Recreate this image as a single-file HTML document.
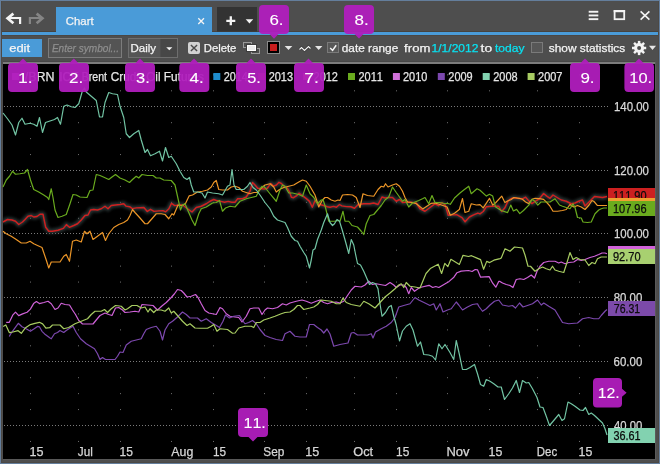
<!DOCTYPE html><html><head><meta charset="utf-8"><style>html,body{margin:0;padding:0;background:#4e4e4e;overflow:hidden}svg{display:block;will-change:transform}text{font-family:"Liberation Sans",sans-serif;font-kerning:none}</style></head><body>
<svg width="660" height="464" viewBox="0 0 660 464">
<defs><filter id="glow" x="-5%" y="-50%" width="110%" height="200%"><feGaussianBlur stdDeviation="1.4"/></filter></defs>
<rect x="0" y="0" width="660" height="464" fill="#647e9c"/>
<rect x="1" y="1" width="658" height="462" fill="#4e4e4e"/>
<rect x="1" y="1" width="1" height="462" fill="#4c4945"/>
<rect x="658" y="1" width="1" height="462" fill="#4c4945"/>
<rect x="1" y="462" width="658" height="1" fill="#4c4945"/>
<rect x="2" y="31" width="656" height="1" fill="#46433f"/>
<rect x="2" y="32" width="656" height="3" fill="#4a9bd8"/>
<rect x="2" y="35" width="656" height="1" fill="#4a4744"/>
<rect x="56" y="7" width="156" height="28" fill="#4a9bd8"/>
<g fill="none" stroke-linecap="butt" stroke-linejoin="miter">
<path d="M13.4,13.6 L7.6,18.3 L13.4,23.2" stroke="#f4f4f4" stroke-width="2.7"/><path d="M8,18 H20.1 V24" stroke="#f4f4f4" stroke-width="2.2"/>
<path d="M36.6,13.6 L42.4,18.3 L36.6,23.2" stroke="#858585" stroke-width="2.7"/><path d="M42,18 H29.9 V24" stroke="#858585" stroke-width="2.2"/>
</g>
<text x="65.82" y="25.2" font-size="11.5" fill="#f4f4f4" stroke="#f4f4f4" stroke-width="0.25" textLength="27.86" lengthAdjust="spacingAndGlyphs">Chart</text>
<path d="M198.3,18.3 L204,24 M204,18.3 L198.3,24" stroke="#f4f4f4" stroke-width="1.3"/>
<rect x="217" y="7" width="40" height="24.5" fill="#333333"/>
<path d="M226.3,20.8 H235.3 M230.8,16.3 V25.3" stroke="#f4f4f4" stroke-width="2.3"/>
<path d="M245.7,19.2 H253.2 L249.45,23.4 Z" fill="#f4f4f4"/>
<g fill="#f4f4f4"><rect x="588.7" y="10.8" width="9.6" height="1.9"/><rect x="588.7" y="14.5" width="9.6" height="1.9"/><rect x="588.7" y="18.2" width="9.6" height="1.9"/></g>
<rect x="614.6" y="11" width="9.6" height="8.2" fill="none" stroke="#f4f4f4" stroke-width="1.8"/><rect x="613.7" y="10" width="11.4" height="2.2" fill="#f4f4f4"/>
<path d="M640.6,11.3 L649.4,19.7 M649.4,11.3 L640.6,19.7" stroke="#f4f4f4" stroke-width="1.6"/>
<rect x="2" y="39" width="40" height="18" fill="#4a9bd8"/>
<text x="9.25" y="51.8" font-size="11.5" fill="#f4f4f4" stroke="#f4f4f4" stroke-width="0.25" textLength="20.84" lengthAdjust="spacingAndGlyphs">edit</text>
<rect x="48.5" y="38.5" width="73" height="19" fill="#545454" stroke="#7c7c7c" stroke-width="1"/>
<text x="51.89" y="51.8" font-size="11.5" fill="#8e8e8e" stroke="#8e8e8e" stroke-width="0.25" textLength="67.14" lengthAdjust="spacingAndGlyphs" font-style="italic">Enter symbol...</text>
<rect x="128.5" y="38.5" width="49" height="19" fill="#555555" stroke="#6e6e6e" stroke-width="1"/>
<rect x="160.5" y="39" width="16.5" height="18" fill="#474747"/>
<text x="130.46" y="51.8" font-size="11.5" fill="#f4f4f4" stroke="#f4f4f4" stroke-width="0.25" textLength="25.57" lengthAdjust="spacingAndGlyphs">Daily</text>
<path d="M166.2,47.3 H172.4 L169.3,50.2 Z" fill="#f4f4f4"/>
<rect x="188" y="42" width="12" height="12" rx="2" fill="#d2d2d2"/>
<path d="M190.9,44.9 L197.1,51.1 M197.1,44.9 L190.9,51.1" stroke="#4a4a4a" stroke-width="1.4"/>
<text x="203.77" y="51.8" font-size="11.5" fill="#f4f4f4" stroke="#f4f4f4" stroke-width="0.25" textLength="32.63" lengthAdjust="spacingAndGlyphs">Delete</text>
<rect x="243.5" y="42.5" width="8" height="5" fill="none" stroke="#9a9a9a" stroke-width="1"/>
<rect x="251.5" y="48.5" width="8" height="5" fill="none" stroke="#9a9a9a" stroke-width="1"/>
<rect x="246.5" y="44.5" width="10" height="7" fill="#ececec" stroke="#3c3c3c" stroke-width="1"/>
<rect x="247.5" y="45.5" width="8" height="5" fill="none" stroke="#ffffff" stroke-width="1"/>
<rect x="267.5" y="41.5" width="12" height="12" fill="#000" stroke="#8a8a8a" stroke-width="1"/>
<rect x="270" y="44" width="7" height="7" fill="#c81e1e"/>
<path d="M284.7,46 H292.3 L288.5,49.9 Z" fill="#e6e6e6"/>
<polyline points="299.5,49.5 301.5,47.5 304.5,50.5 308.5,46.5 310.5,48.5" fill="none" stroke="#111" stroke-width="2.6" opacity="0.35"/>
<polyline points="299.5,49.5 301.5,47.5 304.5,50.5 308.5,46.5 310.5,48.5" fill="none" stroke="#f4f4f4" stroke-width="1.1"/>
<path d="M315,46 H322.4 L318.7,50 Z" fill="#e6e6e6"/>
<rect x="327.5" y="42.5" width="11" height="10" fill="#575757" stroke="#7a7a7a" stroke-width="1"/>
<path d="M330.2,47.9 L332.6,50.4 L336.2,45.3" fill="none" stroke="#f4f4f4" stroke-width="1.5"/>
<text x="341.80" y="51.8" font-size="11.5" fill="#f4f4f4" stroke="#f4f4f4" stroke-width="0.25" textLength="56.42" lengthAdjust="spacingAndGlyphs">date range</text>
<text x="404.11" y="51.8" font-size="11.5" fill="#f4f4f4" stroke="#f4f4f4" stroke-width="0.25" textLength="26.25" lengthAdjust="spacingAndGlyphs">from</text>
<text x="431.58" y="51.8" font-size="11.5" fill="#08e2f2" stroke="#08e2f2" stroke-width="0.25" textLength="46.82" lengthAdjust="spacingAndGlyphs">1/1/2012</text>
<text x="480.59" y="51.8" font-size="11.5" fill="#f4f4f4" stroke="#f4f4f4" stroke-width="0.25" textLength="11.59" lengthAdjust="spacingAndGlyphs">to</text>
<text x="494.92" y="51.8" font-size="11.5" fill="#08e2f2" stroke="#08e2f2" stroke-width="0.25" textLength="29.61" lengthAdjust="spacingAndGlyphs">today</text>
<rect x="531.5" y="42.5" width="11" height="10" fill="#575757" stroke="#7a7a7a" stroke-width="1"/>
<text x="548.77" y="51.8" font-size="11.5" fill="#f4f4f4" stroke="#f4f4f4" stroke-width="0.25" textLength="76.46" lengthAdjust="spacingAndGlyphs">show statistics</text>
<g fill="#f4f4f4"><rect x="637.85" y="40.90" width="2.5" height="3" transform="rotate(0 639.1 48.0)"/><rect x="637.85" y="40.90" width="2.5" height="3" transform="rotate(45 639.1 48.0)"/><rect x="637.85" y="40.90" width="2.5" height="3" transform="rotate(90 639.1 48.0)"/><rect x="637.85" y="40.90" width="2.5" height="3" transform="rotate(135 639.1 48.0)"/><rect x="637.85" y="40.90" width="2.5" height="3" transform="rotate(180 639.1 48.0)"/><rect x="637.85" y="40.90" width="2.5" height="3" transform="rotate(225 639.1 48.0)"/><rect x="637.85" y="40.90" width="2.5" height="3" transform="rotate(270 639.1 48.0)"/><rect x="637.85" y="40.90" width="2.5" height="3" transform="rotate(315 639.1 48.0)"/><circle cx="639.1" cy="48.0" r="5.0"/></g><circle cx="639.1" cy="48.0" r="2.0" fill="#4e4e4e"/>
<path d="M649,45.8 H656 L652.5,49.9 Z" fill="#e6e6e6"/>
<rect x="3" y="62" width="652" height="2" fill="#7c7c7c"/>
<rect x="3" y="61" width="652" height="1" fill="#474747"/>
<rect x="3" y="64" width="652" height="395" fill="#000"/>
<rect x="655" y="62" width="1" height="398" fill="#5a5a5a"/>
<rect x="3" y="459" width="653" height="1" fill="#585858"/>
<line x1="4" y1="106.5" x2="608" y2="106.5" stroke="#7a7a7a" stroke-width="1" stroke-dasharray="1 2"/><line x1="4" y1="170.5" x2="608" y2="170.5" stroke="#7a7a7a" stroke-width="1" stroke-dasharray="1 2"/><line x1="4" y1="233.5" x2="608" y2="233.5" stroke="#7a7a7a" stroke-width="1" stroke-dasharray="1 2"/><line x1="4" y1="297.5" x2="608" y2="297.5" stroke="#7a7a7a" stroke-width="1" stroke-dasharray="1 2"/><line x1="4" y1="361.5" x2="608" y2="361.5" stroke="#7a7a7a" stroke-width="1" stroke-dasharray="1 2"/><line x1="4" y1="425.5" x2="608" y2="425.5" stroke="#7a7a7a" stroke-width="1" stroke-dasharray="1 2"/><rect x="30" y="74.375" width="1" height="1" fill="#707070"/><rect x="30" y="90.312" width="1" height="1" fill="#707070"/><rect x="30" y="122.188" width="1" height="1" fill="#707070"/><rect x="30" y="138.125" width="1" height="1" fill="#707070"/><rect x="30" y="154.062" width="1" height="1" fill="#707070"/><rect x="30" y="185.938" width="1" height="1" fill="#707070"/><rect x="30" y="201.875" width="1" height="1" fill="#707070"/><rect x="30" y="217.812" width="1" height="1" fill="#707070"/><rect x="30" y="249.688" width="1" height="1" fill="#707070"/><rect x="30" y="265.625" width="1" height="1" fill="#707070"/><rect x="30" y="281.562" width="1" height="1" fill="#707070"/><rect x="30" y="313.438" width="1" height="1" fill="#707070"/><rect x="30" y="329.375" width="1" height="1" fill="#707070"/><rect x="30" y="345.312" width="1" height="1" fill="#707070"/><rect x="30" y="377.188" width="1" height="1" fill="#707070"/><rect x="30" y="393.125" width="1" height="1" fill="#707070"/><rect x="30" y="409.062" width="1" height="1" fill="#707070"/><rect x="30" y="440.938" width="1" height="1" fill="#707070"/><rect x="78" y="74.375" width="1" height="1" fill="#707070"/><rect x="78" y="90.312" width="1" height="1" fill="#707070"/><rect x="78" y="122.188" width="1" height="1" fill="#707070"/><rect x="78" y="138.125" width="1" height="1" fill="#707070"/><rect x="78" y="154.062" width="1" height="1" fill="#707070"/><rect x="78" y="185.938" width="1" height="1" fill="#707070"/><rect x="78" y="201.875" width="1" height="1" fill="#707070"/><rect x="78" y="217.812" width="1" height="1" fill="#707070"/><rect x="78" y="249.688" width="1" height="1" fill="#707070"/><rect x="78" y="265.625" width="1" height="1" fill="#707070"/><rect x="78" y="281.562" width="1" height="1" fill="#707070"/><rect x="78" y="313.438" width="1" height="1" fill="#707070"/><rect x="78" y="329.375" width="1" height="1" fill="#707070"/><rect x="78" y="345.312" width="1" height="1" fill="#707070"/><rect x="78" y="377.188" width="1" height="1" fill="#707070"/><rect x="78" y="393.125" width="1" height="1" fill="#707070"/><rect x="78" y="409.062" width="1" height="1" fill="#707070"/><rect x="78" y="440.938" width="1" height="1" fill="#707070"/><rect x="120" y="74.375" width="1" height="1" fill="#707070"/><rect x="120" y="90.312" width="1" height="1" fill="#707070"/><rect x="120" y="122.188" width="1" height="1" fill="#707070"/><rect x="120" y="138.125" width="1" height="1" fill="#707070"/><rect x="120" y="154.062" width="1" height="1" fill="#707070"/><rect x="120" y="185.938" width="1" height="1" fill="#707070"/><rect x="120" y="201.875" width="1" height="1" fill="#707070"/><rect x="120" y="217.812" width="1" height="1" fill="#707070"/><rect x="120" y="249.688" width="1" height="1" fill="#707070"/><rect x="120" y="265.625" width="1" height="1" fill="#707070"/><rect x="120" y="281.562" width="1" height="1" fill="#707070"/><rect x="120" y="313.438" width="1" height="1" fill="#707070"/><rect x="120" y="329.375" width="1" height="1" fill="#707070"/><rect x="120" y="345.312" width="1" height="1" fill="#707070"/><rect x="120" y="377.188" width="1" height="1" fill="#707070"/><rect x="120" y="393.125" width="1" height="1" fill="#707070"/><rect x="120" y="409.062" width="1" height="1" fill="#707070"/><rect x="120" y="440.938" width="1" height="1" fill="#707070"/><rect x="171" y="74.375" width="1" height="1" fill="#707070"/><rect x="171" y="90.312" width="1" height="1" fill="#707070"/><rect x="171" y="122.188" width="1" height="1" fill="#707070"/><rect x="171" y="138.125" width="1" height="1" fill="#707070"/><rect x="171" y="154.062" width="1" height="1" fill="#707070"/><rect x="171" y="185.938" width="1" height="1" fill="#707070"/><rect x="171" y="201.875" width="1" height="1" fill="#707070"/><rect x="171" y="217.812" width="1" height="1" fill="#707070"/><rect x="171" y="249.688" width="1" height="1" fill="#707070"/><rect x="171" y="265.625" width="1" height="1" fill="#707070"/><rect x="171" y="281.562" width="1" height="1" fill="#707070"/><rect x="171" y="313.438" width="1" height="1" fill="#707070"/><rect x="171" y="329.375" width="1" height="1" fill="#707070"/><rect x="171" y="345.312" width="1" height="1" fill="#707070"/><rect x="171" y="377.188" width="1" height="1" fill="#707070"/><rect x="171" y="393.125" width="1" height="1" fill="#707070"/><rect x="171" y="409.062" width="1" height="1" fill="#707070"/><rect x="171" y="440.938" width="1" height="1" fill="#707070"/><rect x="213" y="74.375" width="1" height="1" fill="#707070"/><rect x="213" y="90.312" width="1" height="1" fill="#707070"/><rect x="213" y="122.188" width="1" height="1" fill="#707070"/><rect x="213" y="138.125" width="1" height="1" fill="#707070"/><rect x="213" y="154.062" width="1" height="1" fill="#707070"/><rect x="213" y="185.938" width="1" height="1" fill="#707070"/><rect x="213" y="201.875" width="1" height="1" fill="#707070"/><rect x="213" y="217.812" width="1" height="1" fill="#707070"/><rect x="213" y="249.688" width="1" height="1" fill="#707070"/><rect x="213" y="265.625" width="1" height="1" fill="#707070"/><rect x="213" y="281.562" width="1" height="1" fill="#707070"/><rect x="213" y="313.438" width="1" height="1" fill="#707070"/><rect x="213" y="329.375" width="1" height="1" fill="#707070"/><rect x="213" y="345.312" width="1" height="1" fill="#707070"/><rect x="213" y="377.188" width="1" height="1" fill="#707070"/><rect x="213" y="393.125" width="1" height="1" fill="#707070"/><rect x="213" y="409.062" width="1" height="1" fill="#707070"/><rect x="213" y="440.938" width="1" height="1" fill="#707070"/><rect x="264" y="74.375" width="1" height="1" fill="#707070"/><rect x="264" y="90.312" width="1" height="1" fill="#707070"/><rect x="264" y="122.188" width="1" height="1" fill="#707070"/><rect x="264" y="138.125" width="1" height="1" fill="#707070"/><rect x="264" y="154.062" width="1" height="1" fill="#707070"/><rect x="264" y="185.938" width="1" height="1" fill="#707070"/><rect x="264" y="201.875" width="1" height="1" fill="#707070"/><rect x="264" y="217.812" width="1" height="1" fill="#707070"/><rect x="264" y="249.688" width="1" height="1" fill="#707070"/><rect x="264" y="265.625" width="1" height="1" fill="#707070"/><rect x="264" y="281.562" width="1" height="1" fill="#707070"/><rect x="264" y="313.438" width="1" height="1" fill="#707070"/><rect x="264" y="329.375" width="1" height="1" fill="#707070"/><rect x="264" y="345.312" width="1" height="1" fill="#707070"/><rect x="264" y="377.188" width="1" height="1" fill="#707070"/><rect x="264" y="393.125" width="1" height="1" fill="#707070"/><rect x="264" y="409.062" width="1" height="1" fill="#707070"/><rect x="264" y="440.938" width="1" height="1" fill="#707070"/><rect x="306" y="74.375" width="1" height="1" fill="#707070"/><rect x="306" y="90.312" width="1" height="1" fill="#707070"/><rect x="306" y="122.188" width="1" height="1" fill="#707070"/><rect x="306" y="138.125" width="1" height="1" fill="#707070"/><rect x="306" y="154.062" width="1" height="1" fill="#707070"/><rect x="306" y="185.938" width="1" height="1" fill="#707070"/><rect x="306" y="201.875" width="1" height="1" fill="#707070"/><rect x="306" y="217.812" width="1" height="1" fill="#707070"/><rect x="306" y="249.688" width="1" height="1" fill="#707070"/><rect x="306" y="265.625" width="1" height="1" fill="#707070"/><rect x="306" y="281.562" width="1" height="1" fill="#707070"/><rect x="306" y="313.438" width="1" height="1" fill="#707070"/><rect x="306" y="329.375" width="1" height="1" fill="#707070"/><rect x="306" y="345.312" width="1" height="1" fill="#707070"/><rect x="306" y="377.188" width="1" height="1" fill="#707070"/><rect x="306" y="393.125" width="1" height="1" fill="#707070"/><rect x="306" y="409.062" width="1" height="1" fill="#707070"/><rect x="306" y="440.938" width="1" height="1" fill="#707070"/><rect x="354" y="74.375" width="1" height="1" fill="#707070"/><rect x="354" y="90.312" width="1" height="1" fill="#707070"/><rect x="354" y="122.188" width="1" height="1" fill="#707070"/><rect x="354" y="138.125" width="1" height="1" fill="#707070"/><rect x="354" y="154.062" width="1" height="1" fill="#707070"/><rect x="354" y="185.938" width="1" height="1" fill="#707070"/><rect x="354" y="201.875" width="1" height="1" fill="#707070"/><rect x="354" y="217.812" width="1" height="1" fill="#707070"/><rect x="354" y="249.688" width="1" height="1" fill="#707070"/><rect x="354" y="265.625" width="1" height="1" fill="#707070"/><rect x="354" y="281.562" width="1" height="1" fill="#707070"/><rect x="354" y="313.438" width="1" height="1" fill="#707070"/><rect x="354" y="329.375" width="1" height="1" fill="#707070"/><rect x="354" y="345.312" width="1" height="1" fill="#707070"/><rect x="354" y="377.188" width="1" height="1" fill="#707070"/><rect x="354" y="393.125" width="1" height="1" fill="#707070"/><rect x="354" y="409.062" width="1" height="1" fill="#707070"/><rect x="354" y="440.938" width="1" height="1" fill="#707070"/><rect x="396" y="74.375" width="1" height="1" fill="#707070"/><rect x="396" y="90.312" width="1" height="1" fill="#707070"/><rect x="396" y="122.188" width="1" height="1" fill="#707070"/><rect x="396" y="138.125" width="1" height="1" fill="#707070"/><rect x="396" y="154.062" width="1" height="1" fill="#707070"/><rect x="396" y="185.938" width="1" height="1" fill="#707070"/><rect x="396" y="201.875" width="1" height="1" fill="#707070"/><rect x="396" y="217.812" width="1" height="1" fill="#707070"/><rect x="396" y="249.688" width="1" height="1" fill="#707070"/><rect x="396" y="265.625" width="1" height="1" fill="#707070"/><rect x="396" y="281.562" width="1" height="1" fill="#707070"/><rect x="396" y="313.438" width="1" height="1" fill="#707070"/><rect x="396" y="329.375" width="1" height="1" fill="#707070"/><rect x="396" y="345.312" width="1" height="1" fill="#707070"/><rect x="396" y="377.188" width="1" height="1" fill="#707070"/><rect x="396" y="393.125" width="1" height="1" fill="#707070"/><rect x="396" y="409.062" width="1" height="1" fill="#707070"/><rect x="396" y="440.938" width="1" height="1" fill="#707070"/><rect x="447" y="74.375" width="1" height="1" fill="#707070"/><rect x="447" y="90.312" width="1" height="1" fill="#707070"/><rect x="447" y="122.188" width="1" height="1" fill="#707070"/><rect x="447" y="138.125" width="1" height="1" fill="#707070"/><rect x="447" y="154.062" width="1" height="1" fill="#707070"/><rect x="447" y="185.938" width="1" height="1" fill="#707070"/><rect x="447" y="201.875" width="1" height="1" fill="#707070"/><rect x="447" y="217.812" width="1" height="1" fill="#707070"/><rect x="447" y="249.688" width="1" height="1" fill="#707070"/><rect x="447" y="265.625" width="1" height="1" fill="#707070"/><rect x="447" y="281.562" width="1" height="1" fill="#707070"/><rect x="447" y="313.438" width="1" height="1" fill="#707070"/><rect x="447" y="329.375" width="1" height="1" fill="#707070"/><rect x="447" y="345.312" width="1" height="1" fill="#707070"/><rect x="447" y="377.188" width="1" height="1" fill="#707070"/><rect x="447" y="393.125" width="1" height="1" fill="#707070"/><rect x="447" y="409.062" width="1" height="1" fill="#707070"/><rect x="447" y="440.938" width="1" height="1" fill="#707070"/><rect x="489" y="74.375" width="1" height="1" fill="#707070"/><rect x="489" y="90.312" width="1" height="1" fill="#707070"/><rect x="489" y="122.188" width="1" height="1" fill="#707070"/><rect x="489" y="138.125" width="1" height="1" fill="#707070"/><rect x="489" y="154.062" width="1" height="1" fill="#707070"/><rect x="489" y="185.938" width="1" height="1" fill="#707070"/><rect x="489" y="201.875" width="1" height="1" fill="#707070"/><rect x="489" y="217.812" width="1" height="1" fill="#707070"/><rect x="489" y="249.688" width="1" height="1" fill="#707070"/><rect x="489" y="265.625" width="1" height="1" fill="#707070"/><rect x="489" y="281.562" width="1" height="1" fill="#707070"/><rect x="489" y="313.438" width="1" height="1" fill="#707070"/><rect x="489" y="329.375" width="1" height="1" fill="#707070"/><rect x="489" y="345.312" width="1" height="1" fill="#707070"/><rect x="489" y="377.188" width="1" height="1" fill="#707070"/><rect x="489" y="393.125" width="1" height="1" fill="#707070"/><rect x="489" y="409.062" width="1" height="1" fill="#707070"/><rect x="489" y="440.938" width="1" height="1" fill="#707070"/><rect x="537" y="74.375" width="1" height="1" fill="#707070"/><rect x="537" y="90.312" width="1" height="1" fill="#707070"/><rect x="537" y="122.188" width="1" height="1" fill="#707070"/><rect x="537" y="138.125" width="1" height="1" fill="#707070"/><rect x="537" y="154.062" width="1" height="1" fill="#707070"/><rect x="537" y="185.938" width="1" height="1" fill="#707070"/><rect x="537" y="201.875" width="1" height="1" fill="#707070"/><rect x="537" y="217.812" width="1" height="1" fill="#707070"/><rect x="537" y="249.688" width="1" height="1" fill="#707070"/><rect x="537" y="265.625" width="1" height="1" fill="#707070"/><rect x="537" y="281.562" width="1" height="1" fill="#707070"/><rect x="537" y="313.438" width="1" height="1" fill="#707070"/><rect x="537" y="329.375" width="1" height="1" fill="#707070"/><rect x="537" y="345.312" width="1" height="1" fill="#707070"/><rect x="537" y="377.188" width="1" height="1" fill="#707070"/><rect x="537" y="393.125" width="1" height="1" fill="#707070"/><rect x="537" y="409.062" width="1" height="1" fill="#707070"/><rect x="537" y="440.938" width="1" height="1" fill="#707070"/><rect x="579" y="74.375" width="1" height="1" fill="#707070"/><rect x="579" y="90.312" width="1" height="1" fill="#707070"/><rect x="579" y="122.188" width="1" height="1" fill="#707070"/><rect x="579" y="138.125" width="1" height="1" fill="#707070"/><rect x="579" y="154.062" width="1" height="1" fill="#707070"/><rect x="579" y="185.938" width="1" height="1" fill="#707070"/><rect x="579" y="201.875" width="1" height="1" fill="#707070"/><rect x="579" y="217.812" width="1" height="1" fill="#707070"/><rect x="579" y="249.688" width="1" height="1" fill="#707070"/><rect x="579" y="265.625" width="1" height="1" fill="#707070"/><rect x="579" y="281.562" width="1" height="1" fill="#707070"/><rect x="579" y="313.438" width="1" height="1" fill="#707070"/><rect x="579" y="329.375" width="1" height="1" fill="#707070"/><rect x="579" y="345.312" width="1" height="1" fill="#707070"/><rect x="579" y="377.188" width="1" height="1" fill="#707070"/><rect x="579" y="393.125" width="1" height="1" fill="#707070"/><rect x="579" y="409.062" width="1" height="1" fill="#707070"/><rect x="579" y="440.938" width="1" height="1" fill="#707070"/>
<polyline points="3,222 7.5,219.5 12,220 15.5,221.25 18.75,224.5 22.5,222 25,219.5 28,216.25 31.25,215.5 33.75,217 37,216.5 40,214.25 43,214.25 45.7,227.3 48.75,231.25 52.5,231.25 58,230.3 63.4,228.4 66.4,224.6 69.4,227.3 73.75,225.5 77.5,223.75 81.25,220 85,215.5 88,215 90.5,210 93.75,209.5 97.5,210 101.25,208.75 105,206.25 108,208.75 111.25,205.5 115.5,205 120,204.5 123.75,203.75 125.9,206.1 129.6,206.7 132.3,208.6 136.5,207.9 143.9,207.5 147.3,211.4 150.5,209.3 154,211.4 158.8,210.9 163,210.7 165.7,211.8 168.9,208.8 171.5,203.3 174.7,205.6 177.9,205.1 182.5,205 187.5,208.75 192,212 196.25,207.5 201.25,206.25 206.25,203.75 210,201.25 213.75,199.5 216.4,200.5 220.9,201.4 224.5,202.3 228.2,201.4 231.8,202.3 235,202.3 237.7,198.6 242.5,198.75 246.25,197 250,191.25 252.5,182.5 255,185 257.7,188.2 264.5,189 267.3,188.2 269,185.9 270.9,183.5 273.6,186.2 276.4,185 279,182.3 281.4,183.5 284.5,186.8 287.3,188.2 289.5,191.8 291.4,197.3 293.6,197.7 296.4,195.9 299,193.2 302.7,195.9 306.4,198.6 309.5,201.4 312.3,207.3 313.6,204.1 315,200.5 316.8,202.7 320,204.5 323.6,205.5 327.3,206.8 330,207.3 333.6,206.4 336.4,207.3 339.5,204.5 341.8,205.9 346.4,206.6 350.9,206.8 354.5,208.2 358.2,204.5 363.75,203.75 370,203.75 373.75,203 378,204.5 382,197 385,198 388.75,197.5 392.5,197.5 396.25,201.25 399.5,199.5 402.5,202.5 407.5,202 412.5,202.5 416.25,203 420,208.75 425,211.25 430,207.5 434.9,203.8 438.6,205.7 441.8,202.7 445,204.8 447.1,211.2 448.2,215.2 452.4,214.9 456.7,214.6 462,217.6 465.1,221.8 469.4,217 473.6,214.9 477.9,213.1 480,213.9 483.2,211.5 486.4,206.7 491.7,206.2 498.6,206.2 501.7,211.5 504.9,207.8 508.1,200.9 510.8,198.8 513.9,197.7 517.1,198.3 522.4,198.8 525.6,197.2 528.8,200.9 532,203.6 535.1,201.4 539.4,198.8 543.6,193.5 546.8,196.1 550,198.3 553,195 556.25,197 561.25,200 566.25,201.25 571.25,203.75 575,203 578.75,201.25 582.5,200 585,206 588,203 591.5,199.5 594.5,196.5 598.5,197 602.5,197.5 607,196.5" fill="none" stroke="#3a4a4a" stroke-width="5" stroke-linejoin="round" filter="url(#glow)" opacity="0.7"/>
<polyline points="3,222 7.5,219.5 12,220 15.5,221.25 18.75,224.5 22.5,222 25,219.5 28,216.25 31.25,215.5 33.75,217 37,216.5 40,214.25 43,214.25 45.7,227.3 48.75,231.25 52.5,231.25 58,230.3 63.4,228.4 66.4,224.6 69.4,227.3 73.75,225.5 77.5,223.75 81.25,220 85,215.5 88,215 90.5,210 93.75,209.5 97.5,210 101.25,208.75 105,206.25 108,208.75 111.25,205.5 115.5,205 120,204.5 123.75,203.75 125.9,206.1 129.6,206.7 132.3,208.6 136.5,207.9 143.9,207.5 147.3,211.4 150.5,209.3 154,211.4 158.8,210.9 163,210.7 165.7,211.8 168.9,208.8 171.5,203.3 174.7,205.6 177.9,205.1 182.5,205 187.5,208.75 192,212 196.25,207.5 201.25,206.25 206.25,203.75 210,201.25 213.75,199.5 216.4,200.5 220.9,201.4 224.5,202.3 228.2,201.4 231.8,202.3 235,202.3 237.7,198.6 242.5,198.75 246.25,197 250,191.25 252.5,182.5 255,185 257.7,188.2 264.5,189 267.3,188.2 269,185.9 270.9,183.5 273.6,186.2 276.4,185 279,182.3 281.4,183.5 284.5,186.8 287.3,188.2 289.5,191.8 291.4,197.3 293.6,197.7 296.4,195.9 299,193.2 302.7,195.9 306.4,198.6 309.5,201.4 312.3,207.3 313.6,204.1 315,200.5 316.8,202.7 320,204.5 323.6,205.5 327.3,206.8 330,207.3 333.6,206.4 336.4,207.3 339.5,204.5 341.8,205.9 346.4,206.6 350.9,206.8 354.5,208.2 358.2,204.5 363.75,203.75 370,203.75 373.75,203 378,204.5 382,197 385,198 388.75,197.5 392.5,197.5 396.25,201.25 399.5,199.5 402.5,202.5 407.5,202 412.5,202.5 416.25,203 420,208.75 425,211.25 430,207.5 434.9,203.8 438.6,205.7 441.8,202.7 445,204.8 447.1,211.2 448.2,215.2 452.4,214.9 456.7,214.6 462,217.6 465.1,221.8 469.4,217 473.6,214.9 477.9,213.1 480,213.9 483.2,211.5 486.4,206.7 491.7,206.2 498.6,206.2 501.7,211.5 504.9,207.8 508.1,200.9 510.8,198.8 513.9,197.7 517.1,198.3 522.4,198.8 525.6,197.2 528.8,200.9 532,203.6 535.1,201.4 539.4,198.8 543.6,193.5 546.8,196.1 550,198.3 553,195 556.25,197 561.25,200 566.25,201.25 571.25,203.75 575,203 578.75,201.25 582.5,200 585,206 588,203 591.5,199.5 594.5,196.5 598.5,197 602.5,197.5 607,196.5" fill="none" stroke="#d02020" stroke-width="1.45" stroke-linejoin="round"/>
<polyline points="3,231.25 6.25,233.75 11.25,236.25 16.25,239.5 21.25,243 26.25,243 30,241.25 33.75,243.75 37.5,245.5 42,247.5 46.25,260 48.75,268 51.25,262 60,262 63.75,256.25 66.25,254.5 69.5,261.25 72.5,241.25 76.25,240 81.25,242 84.5,231.25 87,233.75 90,231.25 93,239.5 97.5,236.25 102.5,232.5 105.5,240.5 108.75,233.75 113.75,227.5 118.75,224.5 123.75,222.5 127.5,220 130,215.5 132.5,209.5 135,212.5 140,218 145,223.75 147.5,223.75 151.25,219.5 156.25,213.75 161.25,213.75 165,214.5 168.75,218.75 172,213.75 173.75,215 178,205 182.5,205.5 185.5,203.6 189.1,195.9 192.5,195 197.5,192 202.5,191.25 207.5,190 211.25,187 213.75,182.5 216.25,180.5 218.75,189.5 222.5,190 227.5,190 231.25,187 235,186.25 238.75,187.5 242.5,191.25 246.25,192.5 250,193.75 253.75,192.5 257.5,192.5 261.25,188 265,185 270,183.75 273.75,187 276.25,192 279.5,189.5 283.75,187.5 288.75,186.25 293.75,185 298.75,182 302.5,180 306.25,181.25 310,186.25 315,195 318.75,207 322.5,200 325,197.5 327.5,197.5 331.25,200 335,201.25 338,200 340,200.5 342.5,195 347.5,194.5 352.5,195 356.25,197.5 360,207.5 363,193.75 367.5,195.5 373.75,196.25 378,189.5 381.25,186.25 383.75,187 385.5,183.75 388,187 392.5,185 396.25,183.75 399.5,186.25 402.5,191.25 405,197.5 407.5,202 412.5,202.5 416.4,203.8 422.7,208.9 428,205.4 431.2,203.3 435,203 440,204.5 447.1,207 450.3,215.2 454.5,213.3 459.3,209.6 462.5,198.5 465,212.5 468.75,211.25 471.25,203.75 476.25,205 480,204.6 483.2,207.8 489.5,198.3 492.7,205.1 495.9,202.5 501.7,196.1 504.9,202.5 508.1,200.7 510.8,199.8 513.9,197.5 519.2,198.3 522.4,199.3 525.6,202 528.8,203.6 532,199.3 535.1,198.3 539.4,198.6 543.6,199.3 546.8,202.5 550,206.2 553,211.25 557.5,211.25 562.5,210.5 566.25,209.5 570,204.5 573.75,207 577.5,205.5 581.25,207 585,209.5 589,205 592,200.5 594,201.5 597.3,205.3 607,205.5" fill="none" stroke="#ec9628" stroke-width="1.2" stroke-linejoin="round"/>
<polyline points="3,187 6.25,180 9.5,176.25 12.5,171.25 15.5,174.25 20,173.75 24.5,173 27.5,169.5 30.5,180 33.75,189.5 38.75,192 43.75,195 47.5,197.5 48.75,199.5 51.25,188.75 53,197.5 55,210 58,217.5 62,216.25 66.25,214.5 70,203.75 73,194.5 76.25,195 80,197 87,197.5 90,190.5 93,190 96.25,174.5 100,175.5 104.5,177.5 108.75,179.5 112,177 115.5,174.5 120,178 125,180 129.5,182.5 132.5,179.5 136.25,176.25 138.75,178 142,174.5 147.5,175.5 153,175.5 156.25,178 160,178 163.75,180 171.25,180.5 175,185 177.5,196.25 180.5,210 182.5,205 185,203.75 188.75,212.5 192,220 195,225.5 198.75,213.75 201.25,208.75 206.25,207 212.5,203 216.25,202.5 219.5,200.5 222.5,211.25 225.5,208 230,206.25 235,207 240,201.25 246.25,198.75 251.25,197.5 256.25,196.25 258.75,191.25 262,186.25 265,187.5 270,193.75 276.25,201.25 280,190 282.5,185 285,186.25 288.75,193 292.5,193 298.75,194.5 302.5,196.25 306.25,185 310,193.75 313.75,197.5 317.5,203.75 321.25,200 323,199.5 325.5,207.5 328.75,221.25 334.5,221.25 338,220.5 340,221.25 343,211.25 345,221.25 348.75,221.25 352,225.5 357.5,227 361.25,231.25 363.75,234.5 366.25,223.75 370,215.5 373.75,214.5 377.5,210 381.25,205.5 385,200 388.75,197 392.5,187 396.25,192.5 399.5,197 402.5,201.25 405,199.5 408.75,207 412.5,203 418.75,200.5 422.5,198.75 425,197.5 428.75,203.75 432,195.5 435,202.5 440,202.5 445,203.75 447.1,203.3 450.3,204.3 454.5,198 460,193 463.75,190 468.75,186.25 471.25,193.75 477,188.75 480,190.3 486.4,196.1 489.5,194.3 492.7,196.1 495.4,206.7 501.2,210.5 507.6,212.6 510.8,205.1 513.4,211 516.6,209.4 519.8,213.6 523.5,210.5 528.8,205.1 532,199.3 534.6,200.9 537.8,205.1 541,202 545.7,202 550,202 555,198.75 559.5,205 562.5,206.25 566.25,207.5 570,208.75 573,203.75 575,207.5 577.5,217.5 581.25,218 583,222 587.5,222.5 591.25,222 595,213.75 598.75,210 601.25,208.75 603.75,208 607,208" fill="none" stroke="#6aab1e" stroke-width="1.2" stroke-linejoin="round"/>
<polyline points="6.2,322.3 9.3,322.3 12.7,315.2 15.5,312.2 18.7,315.6 22.6,313.9 27.1,312.2 30.4,309.1 33.6,303.6 36.4,301.6 39.4,303.6 43.9,302.5 48,301.25 51.25,303.75 55,309.5 58,308 61.25,303.25 65,304.5 69.5,305 72.5,310 75.5,314.5 78.75,320.5 82.5,324 87.5,324 93,324 96.25,320 100,315.5 105,313 108.75,314.5 112,315.5 115.5,308 118.75,307.5 122.5,310 125,312.5 130,312 135,311.25 138.75,312 142,304.5 147.5,305 153,305.5 157.5,310 162.5,305.5 166.25,302.5 171.25,297.5 174.5,293.75 177.5,289.5 181.25,290.5 183.75,293 187,297 191.25,296.25 195.5,294.5 198,297.5 201.25,303.75 205,310.5 208.75,313 212.5,313.75 216.25,314.5 220,307.5 222.5,308.75 226.25,313.75 230,316.25 235,317 238.75,317.5 242,322 246.25,316.25 250,308.75 253.75,308 258.75,308 262,314.5 265,310 267.5,308 272.5,308.75 277.5,307.5 282.5,303.75 286.25,305 290,303 296.25,301.25 302,300 306.25,301.25 311.25,303.25 316.25,301.25 320,300 323.75,302.5 327.5,303.75 331.25,302.5 336.25,302 340,303 343.75,301.25 347,296.25 351.25,290 355,286.25 361.25,287 365,285 368.75,281.25 372.5,284.5 376.25,283.75 380,284.5 385.5,285.5 390,282.5 393.75,285 396.25,287.5 400,285 403.75,285 406.25,287.5 408.75,293.75 411.25,287.5 414.5,291.25 418,288.75 420,287.5 429.1,285.3 432.7,287.5 435.8,286.5 438.8,287.5 449.1,281.4 453.9,277.2 457,272.7 461.2,271.1 468.5,270.5 472.1,271.5 475.2,269.5 477.6,269.9 480.6,277.2 489.1,276.6 492.7,283.2 495.8,287.2 498.8,281.4 500,281.4 502.5,283 506.25,284.5 510,285.5 513,287.5 516.25,279.5 520,278.75 523.75,279.5 527.5,277.5 531.25,275 534.5,278 537,271.25 540,266.25 543.75,262.5 548.75,261.25 555,261.25 558.75,263 561.25,262 565,263.75 568.75,262.5 573.75,262 577.5,259.5 581.25,260.5 585,259.5 590,257.5 594.5,256.25 598.75,254.5 602,253 605,253 607,253.75" fill="none" stroke="#cf62d8" stroke-width="1.2" stroke-linejoin="round"/>
<polyline points="9.3,336.5 11,333.3 18.3,323.3 22,326.8 26.5,329 30.4,331.3 34.2,328.8 37.5,326.4 39.4,326.8 42,331.3 44.6,333.9 49.7,337.8 51.25,338.75 54.5,333.75 57.5,332.5 60,330.5 63.75,332.5 66.25,330.5 70,328 73,326.25 76.25,332.5 80.5,338.75 86.25,343.75 94.5,348.75 97.5,353.75 100,359.5 102.5,357.5 105.5,359.5 115,359.5 117.5,356.25 120,352 123,352.5 126.25,345 131.25,341.25 136.25,340 141.25,338.75 143.75,333.75 146.25,329.5 151.25,327.5 156.25,326.25 160,331.25 162.5,340 165,330 168.75,323.75 172.5,321.25 177.5,317 182.5,312 186.25,314.5 190,318 197.5,318 201.25,321.25 206.25,318.75 211.25,322.5 215.5,325 219.5,327.5 223,321.25 225.5,315 229.5,318 233.75,316.25 239.5,315.5 242.5,320.5 245,323.75 248.75,322.5 252.5,320.5 256.25,323.75 260,329.5 265,335.5 270,337.5 276.25,339.5 282.5,340.5 285,333.75 290,331.25 295,336.25 300,337 306.25,337 309.5,324.5 313.75,324.5 317.5,327.5 321.25,330 323.75,333 327,329 330,334 333.75,346.25 340,344.5 348,343 351.25,333 353.75,332.5 357.5,335 367.5,335 371.25,333.75 373,338 375.5,332 381.25,328.75 386.25,326.25 391.25,322.5 395,317.5 398.75,307 403.75,305.5 410,303.75 413,300 415,297.5 418.75,300 425,303 430,305.5 433.75,303.75 436.25,310 440,303.75 443,312 447.5,310 451.25,308.75 456.25,302 458.75,305 462.5,310 467.5,307 472.5,304.5 477.5,303.75 478.75,306.25 482.5,311.25 486.25,308.75 490,305 494.5,301.25 498.75,300 502.5,305 508.75,306.25 512.5,305.5 515.5,308 519.5,303 523,307 527.5,305.5 532.5,303.75 537.5,300 541.25,305 543.75,303 548.75,306.25 555,310 558.75,316.25 562.5,322.5 568.75,323.75 577.5,323 582.5,318.75 588.75,317.5 593.75,318.75 598.75,318.75 601.25,315.5 605,311.25 607,309.5" fill="none" stroke="#7c48ae" stroke-width="1.2" stroke-linejoin="round"/>
<polyline points="3,113 7.5,118.75 12,125 15.5,135 18.75,122.5 22,118.25 25,124.25 30,123.25 33.75,124.25 37,126.25 39.5,117.5 42.5,132.5 45.5,122.5 50,121 54.5,119.5 57.5,117.5 60.5,124.25 63.75,106.25 67,105 71.25,106.75 75,107.5 78.75,103.75 82.5,90.5 84.5,88 86.25,92 91.25,96.25 96.25,100.5 99.5,117 102.5,117 105,102.5 108.75,92.5 112.5,93.75 117.5,94.5 120,106.25 123.75,117.5 126.25,133.75 129.5,137.5 133.75,133.75 138.75,130.5 141.25,140 145,152.5 147.5,149.5 150.5,155.75 155,153.75 159.5,151.25 162.5,161 165.5,147.5 168.75,157.5 171.25,156.25 176.25,163.75 180,171.25 183.75,177.5 187,179.5 189.5,177.5 191.25,185 193.75,192 197.5,192 202,193 205,198 207.5,192 212.5,193 218.75,193.75 222.5,195 227.5,186.25 230,185 232,169.5 234,185 236.25,189.5 243.75,189.5 247.5,186.25 250,182.5 253,187.5 256.25,190 260,195 265,202.5 270,208.75 273.75,216.25 277.5,220 281.25,221.25 285,222.5 287.5,227.5 291.25,236.25 295,240.5 297.5,241.25 300,246.25 303.75,252.5 306.25,256.25 309.5,268 311.25,260 313,250 315,248.75 317.5,239.5 321.25,230 323.75,222.5 327.5,213.75 330,222.5 332.5,225.5 334.5,223.75 337,219.5 339.5,221.25 342.5,231 345.75,242.5 348.75,253.5 351.25,239.5 353.75,245 355.5,254 357.5,263.5 360.5,265 363.75,271.25 367,278.75 369.5,284.5 372.5,282.5 375.5,283.75 378,288.75 380,303.75 382,316.25 385.5,312.5 388.75,307 391.25,305.5 393.75,316.25 396.25,325 399.5,341 402.5,331 406.25,326.25 410,323.75 413,330 417.5,346.25 420.5,342 423.75,354.5 428.75,355 432.5,356.25 435.5,360 438.75,343.75 442,348.75 445,344.5 450,352.5 453.75,359.5 456.25,340.5 459.5,355 462.5,369.5 466.25,369.5 470,367.5 474.5,364.5 477.5,373.75 480.5,384.5 483.75,386.25 486.25,379.5 490,381.25 493.75,383.75 498,387 501.25,387 504.5,399.5 508.75,393.75 512.5,388 516.25,380.5 519.5,392.5 522.5,380.5 526.25,383 528.75,382.5 532.5,388.75 537,397.5 540,407 543,407.5 546.25,416.25 549.5,425.5 553.75,420.5 558.75,414.5 562,420.5 564.5,418.75 568,402 571.25,403.75 575,406.25 580,410 583,410.5 585.5,407.5 588.75,414.5 591.25,413 594.5,415.5 598.75,419.5 602.5,423 605,428.75 607,435" fill="none" stroke="#72c4a4" stroke-width="1.2" stroke-linejoin="round"/>
<polyline points="3.2,326.4 5.8,324.9 9.3,332.6 12.9,332 18.1,330.7 21.3,333.3 25.2,328.1 30.4,324.6 34.9,323.3 39.4,322.3 42.6,323.9 45.9,328.1 49.7,327.7 52.5,325 60,325 63.75,328.75 68.75,327.5 75,323.75 81.25,321.25 87.5,318.75 91.25,314.5 95,311.25 101.25,311.25 104.5,309.5 107.5,312.5 111.25,308.75 115.5,305.5 121.25,306.25 125,310 127.5,308.75 132,305.5 137,305.5 141.25,308 145,307 148,312 150,308.75 153.75,312.5 156.25,310 161.25,310 165,311.25 168.75,308 171.25,313 173.75,311.25 177.5,315.5 182.5,321.25 187,325.5 190,323.75 195,328 200,328.25 207.5,328.25 211.25,326.25 213.75,324.5 217,331.25 220,328.75 227.5,329.5 232.5,333.25 235,333 238.75,328 245,326.25 251.25,326.25 253.75,327.5 256.25,322.5 260,322.5 263.75,320 270,318 275,316.25 281.25,313.75 285,312.5 290,312 293.75,309.5 297.5,305.5 300,305.5 303.75,309.5 310,308 313.75,307 317.5,304.5 321.25,300 325,300.5 331.25,301.25 336.25,303.75 340,303.75 343,298 346.25,302.5 351.25,304.5 360,306.25 363.75,301.25 368.75,303.75 375,308 380,302.5 385,297 390,293 395,288.75 398.75,285 401.25,283.75 403.75,287.5 406.25,282.5 410,286.25 415,287 420,288 426,273.5 430.3,268.6 438.2,264.2 441.6,273.5 444.8,263.4 447.9,266.6 450.9,259.3 459.4,264.4 463,255.3 468.5,256.5 471.5,255.7 477,258.1 480.6,259.6 483.6,269.3 486.7,261.4 489.7,262.6 493.9,260.2 500,258.6 501.25,258 505,248.75 510,251.25 514.5,247 518.75,247.5 522.5,248 525,255 528,266.25 530.5,266.25 535,271.25 538.75,268.75 542.5,267 546.25,268.75 550,270 552.5,266.25 555,270 558.75,271.25 563.75,272.5 567,262.5 570,252.5 573,259.5 576.25,257.5 580,259.5 585,260 588.75,265.5 592,262.5 595,263.75 597.5,258.75 601.25,257 607,257" fill="none" stroke="#a8cc62" stroke-width="1.2" stroke-linejoin="round"/>
<rect x="12" y="73" width="7" height="7" fill="#cc60cc"/>
<text x="24.70" y="80.8" font-size="12" fill="#e6e6e6" stroke="#e6e6e6" stroke-width="0.25" textLength="29.71" lengthAdjust="spacingAndGlyphs">/BRN</text>
<text x="59.22" y="80.8" font-size="12" fill="#e6e6e6" stroke="#e6e6e6" stroke-width="0.25" textLength="19.59" lengthAdjust="spacingAndGlyphs">ICE</text>
<text x="81.63" y="80.8" font-size="12" fill="#e6e6e6" stroke="#e6e6e6" stroke-width="0.25" textLength="25.35" lengthAdjust="spacingAndGlyphs">Brent</text>
<text x="110.70" y="80.8" font-size="12" fill="#e6e6e6" stroke="#e6e6e6" stroke-width="0.25" textLength="93.23" lengthAdjust="spacingAndGlyphs">Crude Oil Futures</text>
<rect x="213.3" y="73" width="7" height="7" fill="#1e8ccc"/>
<text x="223.75" y="80.8" font-size="12" fill="#e6e6e6" stroke="#e6e6e6" stroke-width="0.25" textLength="24.16" lengthAdjust="spacingAndGlyphs">2014</text>
<rect x="258.2" y="73" width="7" height="7" fill="#c82828"/>
<text x="268.65" y="80.8" font-size="12" fill="#e6e6e6" stroke="#e6e6e6" stroke-width="0.25" textLength="24.33" lengthAdjust="spacingAndGlyphs">2013</text>
<rect x="303.1" y="73" width="7" height="7" fill="#f0a030"/>
<text x="313.55" y="80.8" font-size="12" fill="#e6e6e6" stroke="#e6e6e6" stroke-width="0.25" textLength="24.40" lengthAdjust="spacingAndGlyphs">2012</text>
<rect x="348" y="73" width="7" height="7" fill="#6aab1e"/>
<text x="358.45" y="80.8" font-size="12" fill="#e6e6e6" stroke="#e6e6e6" stroke-width="0.25" textLength="24.39" lengthAdjust="spacingAndGlyphs">2011</text>
<rect x="392.9" y="73" width="7" height="7" fill="#d070d8"/>
<text x="403.05" y="80.8" font-size="12" fill="#e6e6e6" stroke="#e6e6e6" stroke-width="0.25" textLength="24.28" lengthAdjust="spacingAndGlyphs">2010</text>
<rect x="437.8" y="73" width="7" height="7" fill="#7c48ae"/>
<text x="448.35" y="80.8" font-size="12" fill="#e6e6e6" stroke="#e6e6e6" stroke-width="0.25" textLength="24.37" lengthAdjust="spacingAndGlyphs">2009</text>
<rect x="482.7" y="73" width="7" height="7" fill="#82d2b0"/>
<text x="493.25" y="80.8" font-size="12" fill="#e6e6e6" stroke="#e6e6e6" stroke-width="0.25" textLength="24.33" lengthAdjust="spacingAndGlyphs">2008</text>
<rect x="527.6" y="73" width="7" height="7" fill="#a8cc62"/>
<text x="538.05" y="80.8" font-size="12" fill="#e6e6e6" stroke="#e6e6e6" stroke-width="0.25" textLength="24.40" lengthAdjust="spacingAndGlyphs">2007</text>
<text x="614.03" y="110.85" font-size="12" fill="#dadada" stroke="#dadada" stroke-width="0.25" textLength="34.92" lengthAdjust="spacingAndGlyphs">140.00</text>
<text x="614.03" y="174.6" font-size="12" fill="#dadada" stroke="#dadada" stroke-width="0.25" textLength="34.92" lengthAdjust="spacingAndGlyphs">120.00</text>
<text x="614.03" y="238.35" font-size="12" fill="#dadada" stroke="#dadada" stroke-width="0.25" textLength="34.92" lengthAdjust="spacingAndGlyphs">100.00</text>
<text x="613.70" y="302.1" font-size="12" fill="#dadada" stroke="#dadada" stroke-width="0.25" textLength="28.54" lengthAdjust="spacingAndGlyphs">80.00</text>
<text x="613.62" y="365.85" font-size="12" fill="#dadada" stroke="#dadada" stroke-width="0.25" textLength="28.63" lengthAdjust="spacingAndGlyphs">60.00</text>
<text x="613.94" y="429.6" font-size="12" fill="#dadada" stroke="#dadada" stroke-width="0.25" textLength="28.30" lengthAdjust="spacingAndGlyphs">40.00</text>
<text x="29.54" y="455.9" font-size="12" fill="#d6d6d6" stroke="#d6d6d6" stroke-width="0.25" textLength="13.99" lengthAdjust="spacingAndGlyphs">15</text>
<text x="77.82" y="455.9" font-size="12" fill="#d6d6d6" stroke="#d6d6d6" stroke-width="0.25" textLength="14.97" lengthAdjust="spacingAndGlyphs">Jul</text>
<text x="119.58" y="455.9" font-size="12" fill="#d6d6d6" stroke="#d6d6d6" stroke-width="0.25" textLength="13.43" lengthAdjust="spacingAndGlyphs">15</text>
<text x="171.28" y="455.9" font-size="12" fill="#d6d6d6" stroke="#d6d6d6" stroke-width="0.25" textLength="22.02" lengthAdjust="spacingAndGlyphs">Aug</text>
<text x="212.90" y="455.9" font-size="12" fill="#d6d6d6" stroke="#d6d6d6" stroke-width="0.25" textLength="13.09" lengthAdjust="spacingAndGlyphs">15</text>
<text x="263.26" y="455.9" font-size="12" fill="#d6d6d6" stroke="#d6d6d6" stroke-width="0.25" textLength="21.03" lengthAdjust="spacingAndGlyphs">Sep</text>
<text x="305.34" y="455.9" font-size="12" fill="#d6d6d6" stroke="#d6d6d6" stroke-width="0.25" textLength="13.99" lengthAdjust="spacingAndGlyphs">15</text>
<text x="353.19" y="455.9" font-size="12" fill="#d6d6d6" stroke="#d6d6d6" stroke-width="0.25" textLength="19.90" lengthAdjust="spacingAndGlyphs">Oct</text>
<text x="396.10" y="455.9" font-size="12" fill="#d6d6d6" stroke="#d6d6d6" stroke-width="0.25" textLength="13.20" lengthAdjust="spacingAndGlyphs">15</text>
<text x="446.43" y="455.9" font-size="12" fill="#d6d6d6" stroke="#d6d6d6" stroke-width="0.25" textLength="23.11" lengthAdjust="spacingAndGlyphs">Nov</text>
<text x="488.56" y="455.9" font-size="12" fill="#d6d6d6" stroke="#d6d6d6" stroke-width="0.25" textLength="13.76" lengthAdjust="spacingAndGlyphs">15</text>
<text x="536.86" y="455.9" font-size="12" fill="#d6d6d6" stroke="#d6d6d6" stroke-width="0.25" textLength="20.34" lengthAdjust="spacingAndGlyphs">Dec</text>
<text x="578.56" y="455.9" font-size="12" fill="#d6d6d6" stroke="#d6d6d6" stroke-width="0.25" textLength="13.76" lengthAdjust="spacingAndGlyphs">15</text>
<rect x="608" y="188" width="47" height="15" fill="#cc2020"/>
<text x="612.96" y="199.6" font-size="12" fill="#0c0c0c" stroke="#0c0c0c" stroke-width="0.25" textLength="33.56" lengthAdjust="spacingAndGlyphs">111.90</text>
<rect x="608" y="198" width="47" height="15" fill="#f0a030"/>
<rect x="608" y="201" width="47" height="15" fill="#6aab1e"/>
<text x="612.96" y="212.6" font-size="12" fill="#0c0c0c" stroke="#0c0c0c" stroke-width="0.25" textLength="33.62" lengthAdjust="spacingAndGlyphs">107.96</text>
<rect x="608" y="246" width="47" height="15" fill="#d062d8"/>
<rect x="608" y="249" width="47" height="15" fill="#a8d070"/>
<text x="612.98" y="260.6" font-size="12" fill="#0c0c0c" stroke="#0c0c0c" stroke-width="0.25" textLength="27.65" lengthAdjust="spacingAndGlyphs">92.70</text>
<rect x="608" y="301" width="47" height="15" fill="#7c4aaa"/>
<text x="613.86" y="312.6" font-size="12" fill="#0c0c0c" stroke="#0c0c0c" stroke-width="0.25" textLength="26.35" lengthAdjust="spacingAndGlyphs">76.31</text>
<rect x="608" y="428" width="47" height="15" fill="#82d2b0"/>
<text x="613.39" y="439.6" font-size="12" fill="#0c0c0c" stroke="#0c0c0c" stroke-width="0.25" textLength="27.14" lengthAdjust="spacingAndGlyphs">36.61</text>
<path d="M12,63 L18.5,63 L23,58.5 L27.5,63 L34,63 Q38,63 38,67 L38,88 Q38,92 34,92 L12,92 Q8,92 8,88 L8,67 Q8,63 12,63 Z" fill="#b01dbd" fill-opacity="0.95"/>
<text x="18.07" y="83" font-size="15.4" fill="#ffffff" stroke="#ffffff" stroke-width="0.1" textLength="14.51" lengthAdjust="spacingAndGlyphs">1.</text>
<path d="M63,63 L69.3,63 L73.8,58.5 L78.3,63 L85,63 Q89,63 89,67 L89,88 Q89,92 85,92 L63,92 Q59,92 59,88 L59,67 Q59,63 63,63 Z" fill="#b01dbd" fill-opacity="0.95"/>
<text x="69.14" y="83" font-size="15.4" fill="#ffffff" stroke="#ffffff" stroke-width="0.1" textLength="14.21" lengthAdjust="spacingAndGlyphs">2.</text>
<path d="M129,63 L135.5,63 L140,58.5 L144.5,63 L151,63 Q155,63 155,67 L155,88 Q155,92 151,92 L129,92 Q125,92 125,88 L125,67 Q125,63 129,63 Z" fill="#b01dbd" fill-opacity="0.95"/>
<text x="136.07" y="83" font-size="15.4" fill="#ffffff" stroke="#ffffff" stroke-width="0.1" textLength="13.73" lengthAdjust="spacingAndGlyphs">3.</text>
<path d="M183.3,63 L189.5,63 L194,58.5 L198.5,63 L205.3,63 Q209.3,63 209.3,67 L209.3,88 Q209.3,92 205.3,92 L183.3,92 Q179.3,92 179.3,88 L179.3,67 Q179.3,63 183.3,63 Z" fill="#b01dbd" fill-opacity="0.95"/>
<text x="189.61" y="83" font-size="15.4" fill="#ffffff" stroke="#ffffff" stroke-width="0.1" textLength="14.14" lengthAdjust="spacingAndGlyphs">4.</text>
<path d="M240,63 L246.5,63 L251,58.5 L255.5,63 L262,63 Q266,63 266,67 L266,88 Q266,92 262,92 L240,92 Q236,92 236,88 L236,67 Q236,63 240,63 Z" fill="#b01dbd" fill-opacity="0.95"/>
<text x="247.24" y="83" font-size="15.4" fill="#ffffff" stroke="#ffffff" stroke-width="0.1" textLength="13.65" lengthAdjust="spacingAndGlyphs">5.</text>
<path d="M263,5 L285,5 Q289,5 289,9 L289,30 Q289,34 285,34 L278.5,34 L274,38.8 L269.5,34 L263,34 Q259,34 259,30 L259,9 Q259,5 263,5 Z" fill="#b01dbd" fill-opacity="0.95"/>
<text x="269.44" y="25.4" font-size="15.4" fill="#ffffff" stroke="#ffffff" stroke-width="0.1" textLength="14.10" lengthAdjust="spacingAndGlyphs">6.</text>
<path d="M298,63 L304.0,63 L308.5,58.5 L313.0,63 L320,63 Q324,63 324,67 L324,88 Q324,92 320,92 L298,92 Q294,92 294,88 L294,67 Q294,63 298,63 Z" fill="#b01dbd" fill-opacity="0.95"/>
<text x="304.20" y="83" font-size="15.4" fill="#ffffff" stroke="#ffffff" stroke-width="0.1" textLength="14.60" lengthAdjust="spacingAndGlyphs">7.</text>
<path d="M348,5 L370,5 Q374,5 374,9 L374,30 Q374,34 370,34 L363.5,34 L359,38.5 L354.5,34 L348,34 Q344,34 344,30 L344,9 Q344,5 348,5 Z" fill="#b01dbd" fill-opacity="0.95"/>
<text x="354.46" y="25.3" font-size="15.4" fill="#ffffff" stroke="#ffffff" stroke-width="0.1" textLength="14.19" lengthAdjust="spacingAndGlyphs">8.</text>
<path d="M574,63 L580.5,63 L585,58.5 L589.5,63 L596,63 Q600,63 600,67 L600,88 Q600,92 596,92 L574,92 Q570,92 570,88 L570,67 Q570,63 574,63 Z" fill="#b01dbd" fill-opacity="0.95"/>
<text x="580.41" y="83" font-size="15.4" fill="#ffffff" stroke="#ffffff" stroke-width="0.1" textLength="14.14" lengthAdjust="spacingAndGlyphs">9.</text>
<path d="M628.4,63 L634.5,63 L639,58.5 L643.5,63 L650.0,63 Q654.0,63 654.0,67 L654.0,88 Q654.0,92 650.0,92 L628.4,92 Q624.4,92 624.4,88 L624.4,67 Q624.4,63 628.4,63 Z" fill="#b01dbd" fill-opacity="0.95"/>
<text x="629.25" y="83" font-size="15.4" fill="#ffffff" stroke="#ffffff" stroke-width="0.1" textLength="22.85" lengthAdjust="spacingAndGlyphs">10.</text>
<path d="M242,408 L264,408 Q268,408 268,412 L268,433 Q268,437 264,437 L257.5,437 L253,441.5 L248.5,437 L242,437 Q238,437 238,433 L238,412 Q238,408 242,408 Z" fill="#b01dbd" fill-opacity="0.95"/>
<text x="243.48" y="428.2" font-size="15.4" fill="#ffffff" stroke="#ffffff" stroke-width="0.1" textLength="22.28" lengthAdjust="spacingAndGlyphs">11.</text>
<path d="M597,378 L618,378 Q622,378 622,382 L622,388.8 L626.6,392.8 L622,396.8 L622,403.5 Q622,407.5 618,407.5 L597,407.5 Q593,407.5 593,403.5 L593,382 Q593,378 597,378 Z" fill="#b01dbd" fill-opacity="0.95"/>
<text x="597.69" y="398.2" font-size="15.4" fill="#ffffff" stroke="#ffffff" stroke-width="0.1" textLength="22.06" lengthAdjust="spacingAndGlyphs">12.</text>
</svg></body></html>
